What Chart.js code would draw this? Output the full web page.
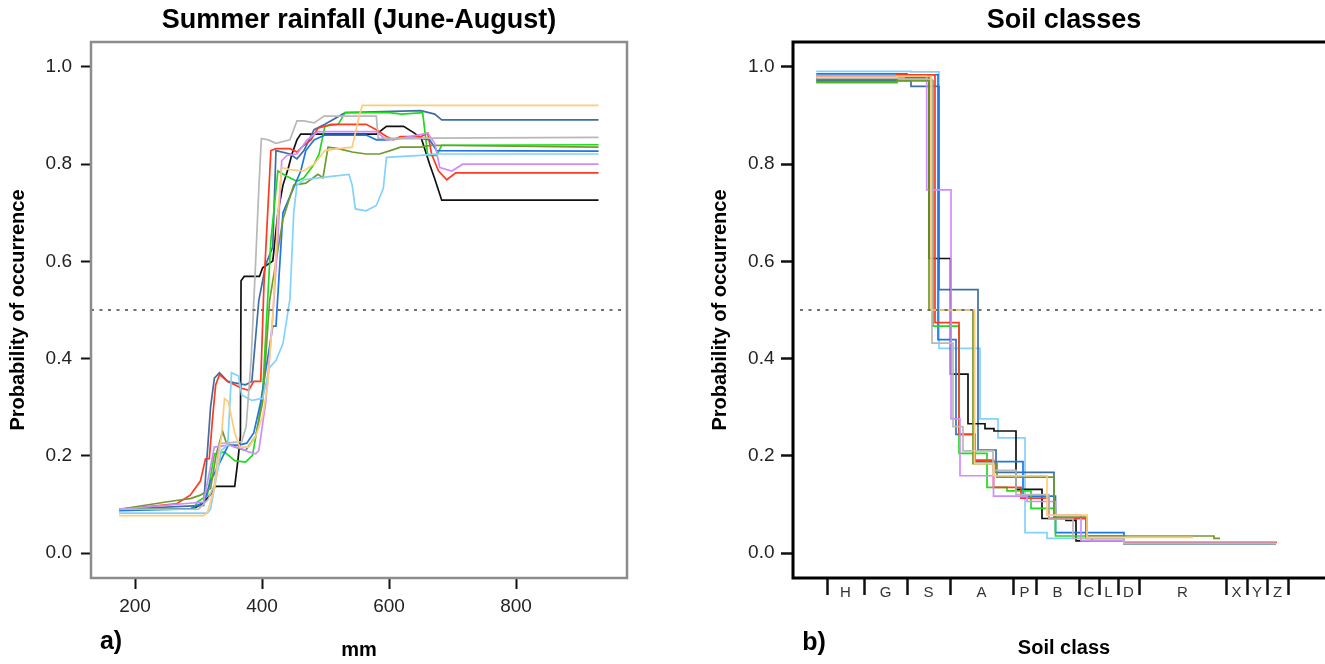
<!DOCTYPE html>
<html>
<head>
<meta charset="utf-8">
<script src="https://cdn.jsdelivr.net/npm/chart.js@4.4.1/dist/chart.umd.min.js"></script>
<style>
  html, body { margin: 0; padding: 0; background: #fff; overflow: hidden; width: 1325px; height: 664px; }
  #rain { position: absolute; left: 0; top: 0; }
  #soil { position: absolute; left: 660px; top: 0; }
</style>
</head>
<body>
<canvas id="rain" width="660" height="664"></canvas>
<canvas id="soil" width="680" height="664"></canvas>
<script>
const FONT = "'Liberation Sans', Arial, Helvetica, sans-serif";

// ---- panel a: summer rainfall (mm, probability) ----
const rainXTicks = [200, 400, 600, 800];
const probTicks = [0, 0.2, 0.4, 0.6, 0.8, 1.0];

const rainBlack = [[175,0.09],[290,0.09],[305,0.10],[319,0.12],[326,0.137],[357,0.137],[362,0.19],[366,0.24],[367,0.56],[372,0.569],[396,0.569],[401,0.587],[417,0.601],[425,0.70],[433,0.757],[441,0.79],[447,0.82],[455,0.85],[461,0.862],[580,0.862],[596,0.878],[623,0.878],[640,0.864],[651,0.853],[664,0.80],[672,0.77],[683,0.726],[930,0.726]];
const rainGray = [[175,0.09],[300,0.09],[315,0.11],[325,0.14],[333,0.225],[368,0.229],[375,0.26],[383,0.40],[390,0.60],[395,0.75],[399,0.853],[410,0.85],[422,0.843],[444,0.85],[455,0.889],[466,0.889],[482,0.885],[498,0.899],[580,0.899],[583,0.853],[930,0.855]];
const rainRed = [[175,0.09],[265,0.101],[287,0.119],[303,0.148],[311,0.194],[317,0.194],[322,0.275],[327,0.346],[333,0.367],[346,0.353],[357,0.346],[368,0.339],[379,0.335],[387,0.353],[398,0.353],[403,0.55],[414,0.828],[422,0.832],[444,0.832],[455,0.825],[466,0.839],[477,0.850],[488,0.874],[509,0.882],[564,0.882],[580,0.871],[596,0.857],[607,0.850],[618,0.857],[651,0.857],[661,0.864],[667,0.821],[678,0.786],[691,0.768],[705,0.782],[930,0.782]];
const rainGreen = [[175,0.09],[292,0.09],[298,0.105],[314,0.119],[325,0.204],[341,0.208],[357,0.190],[374,0.187],[385,0.201],[395,0.275],[401,0.33],[414,0.644],[425,0.786],[439,0.775],[455,0.765],[466,0.772],[482,0.80],[490,0.821],[499,0.878],[520,0.882],[531,0.906],[600,0.906],[620,0.903],[653,0.906],[661,0.818],[675,0.818],[683,0.839],[930,0.840]];
const rainOlive = [[175,0.09],[249,0.105],[265,0.108],[287,0.112],[303,0.119],[319,0.133],[328,0.204],[338,0.25],[344,0.226],[357,0.218],[374,0.211],[390,0.240],[401,0.311],[412,0.52],[433,0.687],[450,0.757],[469,0.761],[488,0.779],[496,0.772],[504,0.835],[520,0.832],[542,0.825],[564,0.821],[585,0.821],[602,0.828],[618,0.835],[650,0.835],[667,0.839],[930,0.835]];
const rainBlue = [[175,0.087],[287,0.091],[309,0.105],[319,0.148],[347,0.222],[363,0.222],[376,0.226],[387,0.247],[398,0.311],[417,0.467],[422,0.467],[433,0.70],[461,0.786],[469,0.828],[482,0.85],[499,0.860],[564,0.860],[580,0.850],[596,0.850],[618,0.853],[650,0.853],[664,0.850],[675,0.828],[930,0.827]];
const rainSteel = [[175,0.09],[308,0.098],[319,0.30],[325,0.360],[333,0.371],[346,0.353],[357,0.350],[374,0.346],[384,0.353],[395,0.52],[406,0.594],[417,0.630],[422,0.828],[444,0.821],[455,0.811],[466,0.828],[482,0.871],[499,0.882],[531,0.906],[650,0.910],[672,0.903],[683,0.891],[930,0.891]];
const rainSky = [[175,0.082],[314,0.082],[319,0.091],[325,0.133],[336,0.211],[346,0.222],[352,0.371],[363,0.364],[368,0.325],[384,0.314],[401,0.318],[412,0.382],[422,0.396],[433,0.431],[444,0.523],[450,0.701],[455,0.757],[466,0.768],[509,0.775],[537,0.779],[542,0.757],[547,0.708],[564,0.704],[580,0.715],[591,0.750],[596,0.814],[650,0.818],[672,0.821],[930,0.821]];
const rainViolet = [[175,0.09],[308,0.105],[325,0.218],[347,0.222],[368,0.215],[379,0.208],[390,0.204],[395,0.211],[406,0.311],[417,0.488],[425,0.644],[431,0.807],[439,0.818],[455,0.821],[471,0.850],[488,0.867],[580,0.867],[596,0.850],[618,0.853],[661,0.864],[672,0.843],[680,0.793],[699,0.786],[716,0.800],[930,0.800]];
const rainOrange = [[175,0.077],[308,0.077],[314,0.084],[325,0.133],[336,0.240],[341,0.318],[347,0.311],[357,0.247],[365,0.218],[379,0.218],[390,0.240],[401,0.282],[409,0.346],[417,0.488],[425,0.701],[431,0.793],[444,0.789],[466,0.786],[482,0.800],[499,0.828],[520,0.832],[542,0.835],[553,0.899],[558,0.921],[930,0.921]];

// ---- panel b: soil classes (class axis positions, probability) ----
const soilClasses = ['H','G','S','A','P','B','C','L','D','R','X','Y','Z'];
const soilBreaks = [0, 3.7, 8.0, 12.3, 18.6, 20.9, 25.2, 27.2, 29.1, 31.2, 39.9, 42.0, 44.0, 46.1];

// each point: [position where the level ends, next level]
const soilBlack = [[-1.08,0.976],[7.0,0.978],[10.2,0.606],[12.35,0.368],[14.1,0.266],[15.8,0.256],[16.7,0.251],[18.9,0.131],[21.5,0.071],[23.9,0.067],[24.9,0.025],[29.7,0.02],[44.9,0.02]];
const soilGray = [[-1.08,0.977],[7.7,0.975],[10.5,0.432],[12.6,0.26],[13.6,0.21],[16.6,0.17],[18.9,0.12],[22.2,0.07],[24.6,0.03],[29.7,0.02],[44.9,0.02]];
const soilRed = [[-1.08,0.981],[7.0,0.984],[10.8,0.474],[13.2,0.244],[14.8,0.191],[16.65,0.135],[19.4,0.113],[22.2,0.071],[25.9,0.03],[29.7,0.022],[44.9,0.02]];
const soilGreen = [[-1.08,0.968],[7.0,0.972],[10.6,0.467],[13.2,0.205],[16.0,0.135],[18.0,0.128],[20.4,0.092],[22.85,0.035],[26.5,0.025],[29.7,0.02],[44.9,0.02]];
const soilOlive = [[-1.08,0.970],[7.0,0.972],[10.2,0.5],[14.6,0.184],[17.0,0.156],[22.7,0.074],[26.0,0.035],[38.7,0.03],[39.3,0.03]];
const soilBlue = [[-1.08,0.986],[8.0,0.984],[11.1,0.439],[12.9,0.244],[14.8,0.188],[19.6,0.117],[22.85,0.042],[29.7,0.02],[44.9,0.02]];
const soilSteel = [[-1.08,0.972],[8.4,0.960],[11.2,0.542],[15.1,0.212],[16.9,0.166],[22.7,0.071],[25.95,0.035],[29.7,0.02],[44.9,0.02]];
const soilSky = [[-1.08,0.991],[8.4,0.99],[11.2,0.421],[15.3,0.276],[17.1,0.237],[19.8,0.042],[22.0,0.03],[29.7,0.02],[44.9,0.02]];
const soilViolet = [[-1.08,0.982],[9.97,0.747],[12.4,0.276],[13.3,0.159],[16.65,0.117],[20.0,0.106],[22.85,0.078],[25.4,0.025],[29.7,0.02],[44.9,0.02]];
const soilOrange = [[-1.08,0.979],[7.0,0.98],[10.4,0.5],[14.76,0.184],[16.65,0.159],[22.0,0.078],[26.0,0.032],[36.6,0.032]];

const colors = {
  black: '#111111', gray: '#b8b8b8', red: '#ff3a1e', green: '#1fdb1f', olive: '#6f9a2e',
  blue: '#1f77e6', steel: '#3d6fa3', sky: '#82d2ff', violet: '#d08cff', orange: '#ffca7a'
};

function line(points, color, stepped) {
  return {
    data: points.map(p => ({ x: p[0], y: p[1] })),
    borderColor: color,
    borderWidth: 1.7,
    pointRadius: 0,
    fill: false,
    tension: 0,
    // 'before' = hold the previous level, then drop at the next position
    stepped: stepped ? 'before' : false
  };
}

function dashed(x0, x1) {
  return {
    data: [{ x: x0, y: 0.5 }, { x: x1, y: 0.5 }],
    borderColor: '#707070',
    borderWidth: 2,
    borderDash: [3, 5.5],
    pointRadius: 0,
    fill: false
  };
}

const framePlugin = {
  id: 'frame',
  afterDatasetsDraw(chart, args, opts) {
    const { ctx, chartArea: a } = chart;
    ctx.save();
    ctx.strokeStyle = opts.color;
    ctx.lineWidth = opts.width;
    ctx.strokeRect(a.left, a.top, a.right - a.left, a.bottom - a.top);
    ctx.fillStyle = '#000';
    ctx.font = 'bold 25px ' + FONT;
    ctx.textAlign = 'center';
    ctx.textBaseline = 'middle';
    ctx.fillText(opts.letter, opts.letterX, opts.letterY);
    ctx.restore();
  }
};

function probAxis(width, tickLen, pad, titlePad, tickWidth) {
  return {
    type: 'linear',
    min: -0.0514,
    max: 1.0514,
    afterBuildTicks: s => { s.ticks = probTicks.map(v => ({ value: v })); },
    afterFit: s => { s.width = width; },
    ticks: { callback: v => v.toFixed(1), font: { family: FONT, size: 19 }, color: '#222', padding: pad },
    grid: { drawOnChartArea: false, drawTicks: true, tickLength: tickLen, tickColor: '#111', tickWidth: tickWidth },
    border: { display: false },
    title: { display: true, text: 'Probability of occurrence', color: '#000',
             font: { family: FONT, size: 20, weight: 'bold' }, padding: { top: titlePad, bottom: 0 } }
  };
}

function titleOpts(text) {
  return { display: true, text: text, color: '#000', fullSize: false,
           font: { family: FONT, size: 27, weight: 'bold' }, padding: { top: 4, bottom: 5.6 } };
}

Chart.defaults.animation = false;

new Chart(document.getElementById('rain'), {
  type: 'line',
  data: {
    datasets: [
      dashed(130.7, 974.8),
      line(rainOrange, colors.orange), line(rainGray, colors.gray), line(rainSky, colors.sky),
      line(rainViolet, colors.violet), line(rainOlive, colors.olive), line(rainRed, colors.red),
      line(rainBlue, colors.blue), line(rainGreen, colors.green), line(rainSteel, colors.steel),
      line(rainBlack, colors.black)
    ]
  },
  options: {
    responsive: false,
    devicePixelRatio: 1,
    layout: { padding: { left: 0, right: 33, top: 0, bottom: 0 } },
    plugins: {
      legend: { display: false },
      tooltip: { enabled: false },
      title: titleOpts('Summer rainfall (June-August)'),
      frame: { color: '#8c8c8c', width: 2.5, letter: 'a)', letterX: 111, letterY: 642 }
    },
    scales: {
      x: {
        type: 'linear',
        min: 130.7,
        max: 974.8,
        afterBuildTicks: s => { s.ticks = rainXTicks.map(v => ({ value: v })); },
        afterFit: s => { s.height = 86; },
        ticks: { font: { family: FONT, size: 19 }, color: '#222', padding: 6, maxRotation: 0 },
        grid: { drawOnChartArea: false, drawTicks: true, tickLength: 11, tickColor: '#111', tickWidth: 2 },
        border: { display: false },
        title: { display: true, text: 'mm', color: '#000',
                 font: { family: FONT, size: 20, weight: 'bold' }, padding: { top: 0, bottom: 2 } }
      },
      y: probAxis(91, 10, 9, 6, 2)
    }
  },
  plugins: [framePlugin]
});

const soilMids = soilClasses.map((c, i) => (soilBreaks[i] + soilBreaks[i + 1]) / 2);
const soilTickValues = soilBreaks.concat(soilMids).sort((a, b) => a - b);
const isBreak = v => soilBreaks.some(b => Math.abs(b - v) < 1e-6);

new Chart(document.getElementById('soil'), {
  type: 'line',
  data: {
    datasets: [
      dashed(-2.7, 50.8),
      line(soilOrange, colors.orange, true), line(soilGray, colors.gray, true), line(soilOlive, colors.olive, true),
      line(soilViolet, colors.violet, true), line(soilRed, colors.red, true), line(soilGreen, colors.green, true),
      line(soilBlue, colors.blue, true), line(soilBlack, colors.black, true), line(soilSteel, colors.steel, true),
      line(soilSky, colors.sky, true)
    ]
  },
  options: {
    responsive: false,
    devicePixelRatio: 1,
    layout: { padding: { left: 0, right: 5, top: 0, bottom: 0 } },
    plugins: {
      legend: { display: false },
      tooltip: { enabled: false },
      title: titleOpts('Soil classes'),
      frame: { color: '#000', width: 3, letter: 'b)', letterX: 154, letterY: 643 }
    },
    scales: {
      x: {
        type: 'linear',
        min: -3.4,
        max: 50.8,
        afterBuildTicks: s => { s.ticks = soilTickValues.map(v => ({ value: v })); },
        afterFit: s => { s.height = 86; },
        ticks: {
          autoSkip: false,
          maxRotation: 0,
          padding: -11,
          font: { family: FONT, size: 15 },
          color: '#333',
          callback: v => {
            const i = soilMids.findIndex(m => Math.abs(m - v) < 1e-6);
            return i >= 0 ? soilClasses[i] : '';
          }
        },
        grid: {
          drawOnChartArea: false, drawTicks: true, tickLength: 17, tickWidth: 2.5,
          tickColor: c => (c.tick && isBreak(c.tick.value)) ? '#111' : 'rgba(0,0,0,0)'
        },
        border: { display: false },
        title: { display: true, text: 'Soil class', color: '#000',
                 font: { family: FONT, size: 20, weight: 'bold' }, padding: { top: 0, bottom: 4 } }
      },
      y: probAxis(133, 12, 6.5, 48, 2.5)
    }
  },
  plugins: [framePlugin]
});
</script>
</body>
</html>
